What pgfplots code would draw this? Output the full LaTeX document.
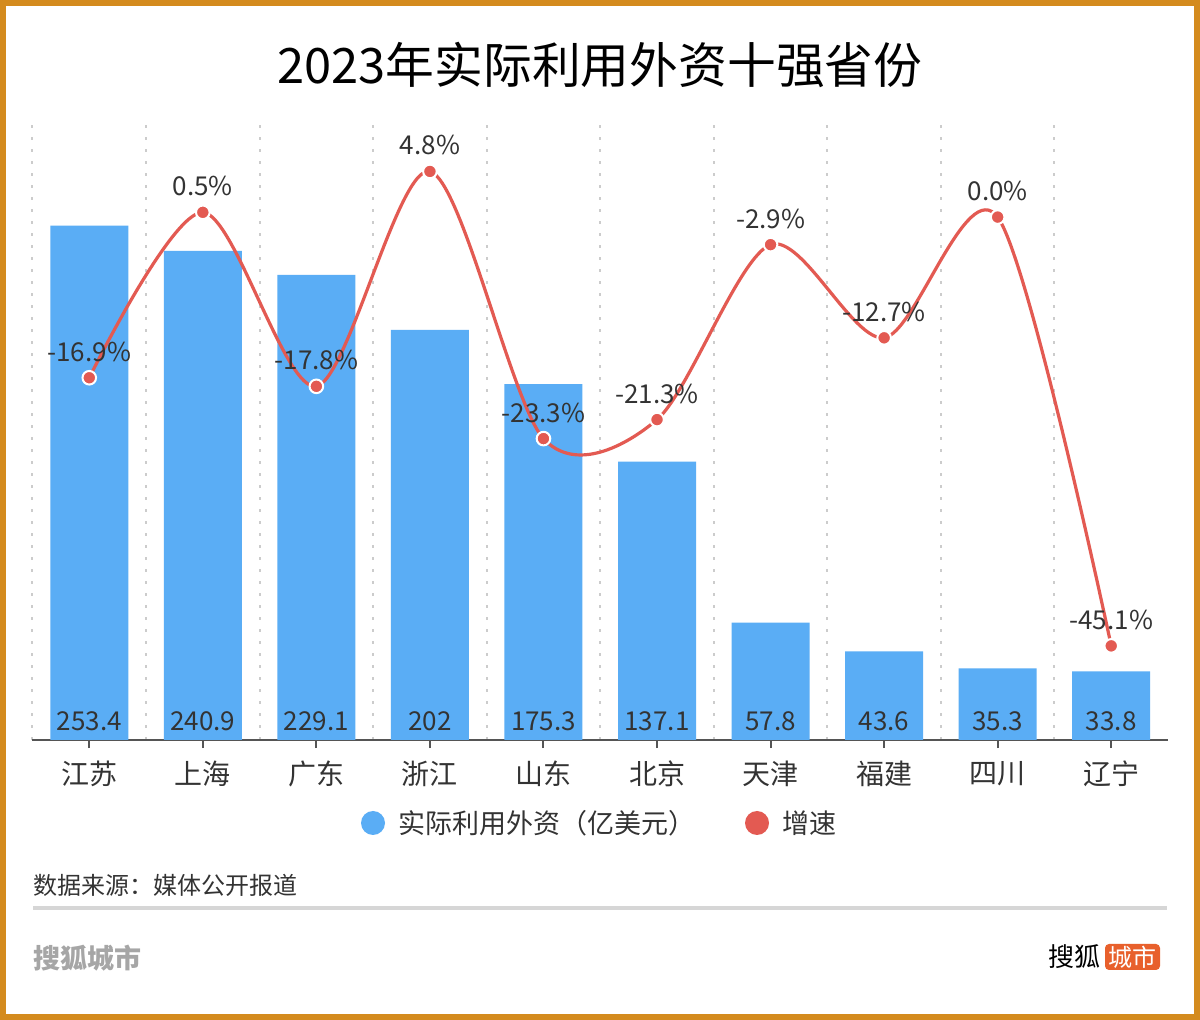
\documentclass[border=0pt]{standalone}
\usepackage{pgfplots}
\pgfplotsset{compat=1.18}
\usepackage{fontspec}
\setmainfont{Noto Sans CJK SC}
\definecolor{barblue}{HTML}{5AADF5}
\definecolor{linered}{HTML}{E35A52}
\definecolor{txt}{HTML}{333333}
\definecolor{axisgray}{HTML}{555555}
\definecolor{gridgray}{HTML}{CCCCCC}
\definecolor{frameor}{HTML}{D48B1E}
\definecolor{logoorange}{HTML}{E8602C}
\begin{document}
\begin{tikzpicture}[x=0.5pt,y=-0.5pt]
\useasboundingbox (0,0) rectangle (1200,1020);
\fill[white] (0,0) rectangle (1200,1020);
\begin{axis}[at={(16.25pt,-370pt)}, anchor=south west, scale only axis,
  width=567.75pt, height=309pt,
  xmin=-0.5, xmax=9.5, ymin=0, ymax=304.4,
  axis x line*=bottom, axis y line=none,
  x axis line style={-, draw=axisgray, line width=1pt},
  xtick={0,...,9},
  xticklabels={江苏,上海,广东,浙江,山东,北京,天津,福建,四川,辽宁},
  tick align=outside, major tick length=4pt,
  xtick style={draw=axisgray, line width=1pt},
  minor xtick={-0.5,0.5,...,8.5}, minor tick length=0pt, xminorgrids,
  minor grid style={gridgray, line width=1pt, dash pattern=on 1.5pt off 4.5pt},
  xticklabel style={font=\fontsize{14}{14}\selectfont, text=txt, yshift=-3pt},
  clip=false]
\addplot[ybar, bar width=39pt, fill=barblue, draw=none]
  coordinates {(0,253.4)(1,240.9)(2,229.1)(3,202)(4,175.3)(5,137.1)(6,57.8)(7,43.6)(8,35.3)(9,33.8)};
\addplot[draw=none, mark=none, nodes near coords, point meta=explicit symbolic,
  every node near coord/.style={anchor=center, yshift=9.5pt, font=\fontsize{13}{13}\selectfont, text=txt}]
  coordinates {(0,0)[253.4] (1,0)[240.9] (2,0)[229.1] (3,0)[202] (4,0)[175.3]
               (5,0)[137.1] (6,0)[57.8] (7,0)[43.6] (8,0)[35.3] (9,0)[33.8]};
\end{axis}
\begin{axis}[at={(16.25pt,-370pt)}, anchor=south west, scale only axis,
  width=567.75pt, height=309pt,
  xmin=-0.5, xmax=9.5, ymin=-55, ymax=10, hide axis, clip=false]
\addplot[linered, line width=1.6pt, smooth, mark=*, mark size=3.4pt,
  mark options={fill=linered, draw=white, line width=1pt},
  nodes near coords, point meta=explicit symbolic,
  every node near coord/.style={anchor=center, yshift=13pt, font=\fontsize{13}{13}\selectfont, text=txt}]
  coordinates {(0,-16.9)[-16.9\%] (1,0.5)[0.5\%] (2,-17.8)[-17.8\%] (3,4.8)[4.8\%]
               (4,-23.3)[-23.3\%] (5,-21.3)[-21.3\%] (6,-2.9)[-2.9\%] (7,-12.7)[-12.7\%]
               (8,0.0)[0.0\%] (9,-45.1)[-45.1\%]};
\end{axis}
\node[font=\fontsize{24.4}{24.4}\selectfont, text=black] at (600,65) {2023年实际利用外资十强省份};
% legend
\fill[barblue] (373,823) circle (12);
\node[anchor=west, font=\fontsize{13.5}{13.5}\selectfont, text=txt, inner sep=0pt] at (398,823) {实际利用外资（亿美元）};
\fill[linered] (757,823) circle (12);
\node[anchor=west, font=\fontsize{13.5}{13.5}\selectfont, text=txt, inner sep=0pt] at (782,823) {增速};
% footer
\node[anchor=west, font=\fontsize{12}{12}\selectfont, text=txt, inner sep=0pt] at (33,885) {数据来源：媒体公开报道};
\draw[gridgray!80, line width=2] (33,908) -- (1167,908);
\node[anchor=west, font=\fontsize{13.5}{13.5}\selectfont\bfseries, text=black!35, inner sep=0pt] at (33,958) {搜狐城市};
\node[anchor=center, font=\fontsize{13}{13}\selectfont, text=black, inner sep=0pt] at (1074,957) {搜狐};
\fill[logoorange, rounded corners=2pt] (1105,944) rectangle (1160,970);
\node[anchor=center, font=\fontsize{12}{12}\selectfont, text=white, inner sep=0pt] at (1132.5,957) {城市};
\draw[frameor, line width=4] (2,2) rectangle (1198,1018);
\end{tikzpicture}
\end{document}
